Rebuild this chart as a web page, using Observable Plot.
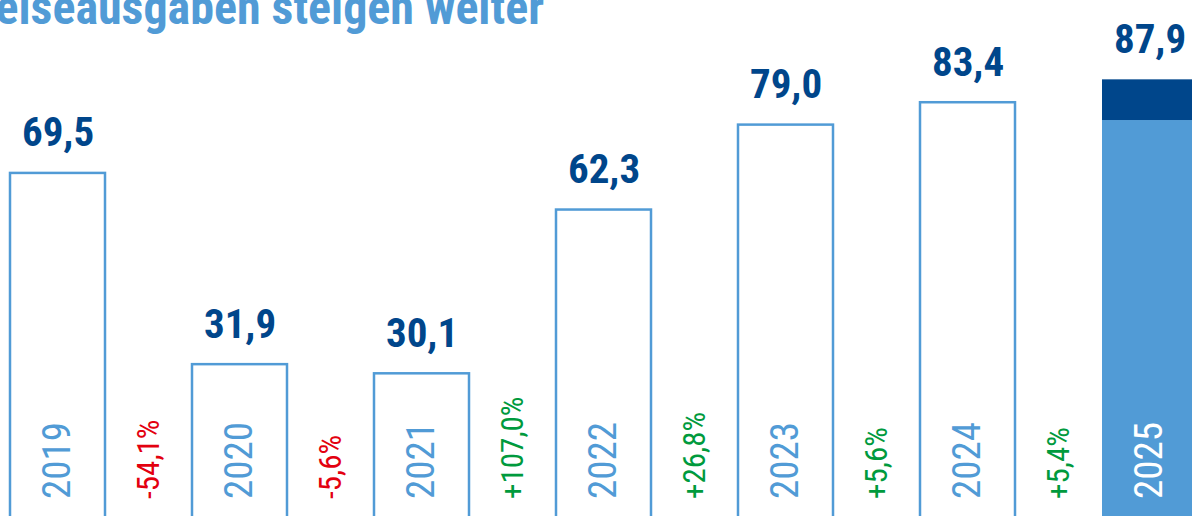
<!DOCTYPE html>
<html>
<head>
<meta charset="utf-8">
<script src="https://cdn.jsdelivr.net/npm/d3@7"></script>
<script src="https://cdn.jsdelivr.net/npm/@observablehq/plot@0.6"></script>
<style>
  html, body { margin: 0; padding: 0; background: #fff; overflow: hidden; width: 1192px; height: 516px; }
  #wrap { position: relative; width: 1192px; height: 516px; }
  #title { position: absolute; left: -31px; top: -16px; margin: 0; white-space: nowrap;
    font-family: "Roboto Condensed", "DejaVu Sans Condensed", "Arial Narrow", sans-serif;
    font-stretch: condensed; font-weight: bold; font-size: 48px; line-height: 48px; color: #519bd6; z-index: 2; }
  svg { display: block; }
</style>
</head>
<body>
<div id="wrap">
  <div id="title">Reiseausgaben steigen weiter</div>
  <div id="chart"></div>
</div>
<script>
// --- data ---
const years = ["2019", "2020", "2021", "2022", "2023", "2024", "2025"];
const values = [69.5, 31.9, 30.1, 62.3, 79.0, 83.4, 87.9];
const valueLabels = ["69,5", "31,9", "30,1", "62,3", "79,0", "83,4", "87,9"];
const changeFrom = ["2019", "2020", "2021", "2022", "2023", "2024"];
const changeValues = [-54.1, -5.6, 107.0, 26.8, 5.6, 5.4];
const changeLabels = ["-54,1%", "-5,6%", "+107,0%", "+26,8%", "+5,6%", "+5,4%"];
// 2025 bar drawn in two shades (estimated split)
const highlightYear = "2025";
const highlightBase = 79.9;
const highlightTop = 87.9;

const FONT = '"Roboto Condensed", "DejaVu Sans Condensed", "Arial Narrow", sans-serif';
const NAVY = "#00468b", LIGHT = "#519bd6", RED = "#e3000f", GREEN = "#009a3d";

const rows = years.map((y, i) => ({year: y, value: values[i], label: valueLabels[i]}));
const outlined = rows.filter(d => d.year !== highlightYear);
const changes = changeFrom.map((y, i) => ({from: y, v: changeValues[i], label: changeLabels[i]}));

const chart = Plot.plot({
  width: 1192,
  height: 516,
  style: {fontFamily: FONT, fontStretch: "condensed", background: "white"},
  x: {type: "band", domain: years, range: [10, 1197], paddingInner: 0.48, paddingOuter: 0, axis: null},
  y: {domain: [0, 100], range: [526.4, 17.8], axis: null},
  marks: [
    Plot.barY(outlined, {x: "year", y1: 0, y2: "value", fill: "white", stroke: LIGHT, strokeWidth: 2.5}),
    Plot.barY([{year: highlightYear, a: 0, b: highlightBase}], {x: "year", y1: "a", y2: "b", fill: LIGHT}),
    Plot.barY([{year: highlightYear, a: highlightBase, b: highlightTop}], {x: "year", y1: "a", y2: "b", fill: NAVY}),
    Plot.text(rows, {x: "year", y: "value", text: "label", lineAnchor: "bottom", dy: -27,
      fontSize: 41, fontWeight: "bold", fill: NAVY}),
    Plot.text(rows, {x: "year", y: 0, text: "year", rotate: -90, textAnchor: "start", dy: -28,
      fontSize: 39, fill: d => d.year === highlightYear ? "white" : LIGHT}),
    Plot.text(changes, {x: "from", y: 0, text: "label", rotate: -90, textAnchor: "start", dx: 91, dy: -28,
      fontSize: 31, fill: d => d.v < 0 ? RED : GREEN})
  ]
});
document.getElementById("chart").appendChild(chart);
</script>
</body>
</html>
